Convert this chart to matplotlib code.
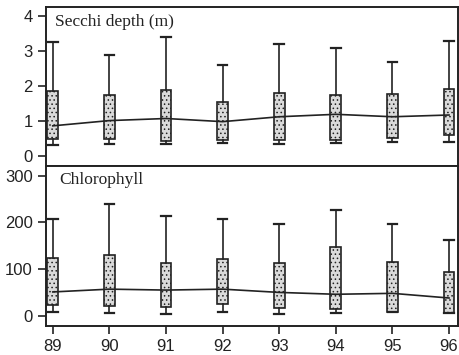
import matplotlib
matplotlib.use("Agg")
import matplotlib.pyplot as plt

years = [89, 90, 91, 92, 93, 94, 95, 96]

# Secchi depth (m)
secchi_whislo = [0.31, 0.33, 0.34, 0.36, 0.33, 0.38, 0.39, 0.41]
secchi_q1 = [0.48, 0.48, 0.43, 0.46, 0.46, 0.46, 0.52, 0.60]
secchi_med = [0.86, 1.01, 1.07, 0.98, 1.12, 1.19, 1.12, 1.17]
secchi_q3 = [1.87, 1.75, 1.89, 1.54, 1.79, 1.73, 1.77, 1.92]
secchi_whishi = [3.27, 2.89, 3.41, 2.61, 3.19, 3.10, 2.70, 3.30]

# Chlorophyll
chl_whislo = [7, 5, 4, 7, 4, 6, 7, 5]
chl_q1 = [24, 21, 18, 25, 17, 15, 8, 6]
chl_med = [51, 57, 55, 57, 50, 46, 48, 38]
chl_q3 = [123, 130, 113, 122, 112, 148, 116, 94]
chl_whishi = [208, 240, 214, 208, 196, 227, 196, 163]

plt.rcParams['font.family'] = ['Liberation Sans', 'DejaVu Sans']
plt.rcParams['hatch.color'] = '#8a8a8a'
plt.rcParams['hatch.linewidth'] = 0.6

fig = plt.figure(figsize=(4.59, 3.55), dpi=100)
ax1 = fig.add_axes([0.1002, 0.5324, 0.8978, 0.4476])
ax2 = fig.add_axes([0.1002, 0.0817, 0.8978, 0.4507])


def draw(ax, lo, q1, med, q3, hi):
    stats = []
    for i in range(len(years)):
        stats.append(dict(whislo=lo[i], q1=q1[i], med=med[i], q3=q3[i],
                          whishi=hi[i], fliers=[]))
    ax.bxp(stats, positions=years, widths=0.19, patch_artist=True,
           showfliers=False, manage_ticks=False,
           boxprops=dict(facecolor='#dadada', edgecolor='#222222', linewidth=1.2, hatch='....'),
           whiskerprops=dict(color='#222222', linewidth=1.2),
           capprops=dict(color='#222222', linewidth=1.6),
           medianprops=dict(linewidth=0),
           capwidths=0.17)
    # median line joining the years
    ax.plot(years, med, color='#222222', linewidth=1.2, zorder=3)
    ax.set_xlim(88.88, 96.16)
    for s in ax.spines.values():
        s.set_linewidth(1.4)
        s.set_color('#222222')
    ax.tick_params(axis='both', direction='out', length=6, width=1.2,
                   labelsize=12, colors='#222222')


draw(ax1, secchi_whislo, secchi_q1, secchi_med, secchi_q3, secchi_whishi)
draw(ax2, chl_whislo, chl_q1, chl_med, chl_q3, chl_whishi)

ax1.set_ylim(-0.29, 4.26)
ax1.set_yticks([0, 1, 2, 3, 4])
ax1.set_xticks([])
ax1.text(0.022, 0.955, 'Secchi depth (m)', transform=ax1.transAxes,
         family=['Liberation Serif', 'DejaVu Serif'], fontsize=12.5,
         va='top', ha='left', color='#222222')

ax2.set_ylim(-22, 321)
ax2.set_yticks([0, 100, 200, 300])
ax2.set_xticks(years)
ax2.set_xticklabels([str(y) for y in years])
ax2.text(0.033, 0.96, 'Chlorophyll', transform=ax2.transAxes,
         family=['Liberation Serif', 'DejaVu Serif'], fontsize=12.5,
         va='top', ha='left', color='#222222')

fig.savefig('out.png', dpi=100)
